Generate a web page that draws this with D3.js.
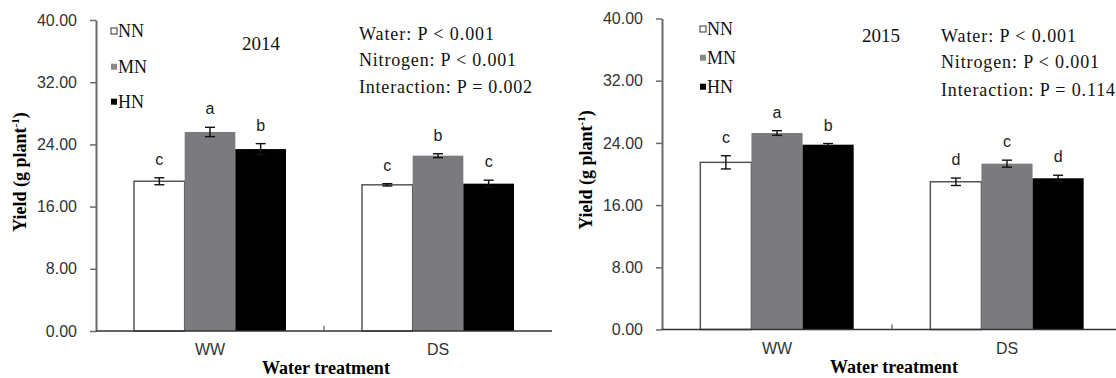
<!DOCTYPE html>
<html>
<head>
<meta charset="utf-8">
<script src="https://cdn.jsdelivr.net/npm/d3@7"></script>
<style>
  body { margin: 0; background: #fff; }
  svg { display: block; }
</style>
</head>
<body>
<div id="chart"></div>
<script>
// data
const categories = ["WW", "DS"];
const series = ["NN", "MN", "HN"];
const yTicks = [0, 8, 16, 24, 32, 40];

const yield2014 = [[19.26, 25.6, 23.4], [18.8, 22.55, 18.95]];
const se2014 = [[0.45, 0.6, 0.7], [0.15, 0.25, 0.45]];
const letters2014 = [["c", "a", "b"], ["c", "b", "c"]];
const stats2014 = ["Water: P < 0.001", "Nitrogen: P < 0.001", "Interaction: P = 0.002"];

const yield2015 = [[21.5, 25.27, 23.77], [19.0, 21.33, 19.45]];
const se2015 = [[0.85, 0.3, 0.15], [0.48, 0.45, 0.39]];
const letters2015 = [["c", "a", "b"], ["d", "c", "d"]];
const stats2015 = ["Water: P < 0.001", "Nitrogen: P < 0.001", "Interaction: P = 0.114"];

var W = 1116, H = 378;
var serif = "'Liberation Serif', 'Times New Roman', serif",
    sans = "'Liberation Sans', Arial, sans-serif";

var color = d3.scaleOrdinal().domain(series).range(["#ffffff", "#7b7b7f", "#000000"]);

var svg = d3.select("#chart").append("svg")
    .attr("width", W)
    .attr("height", H);

var panels = [
    { year: "2014", values: yield2014, se: se2014, letters: letters2014, stats: stats2014,
      x0: 96, x1: 552, yTop: 20, yBot: 331,
      legX: 111, legY: [31, 66.7, 101.7],
      yearX: 261, yearY: 50,
      statsX: 359, statsY: [40, 66, 92.5], statsW: [135, 157, 173],
      yTitleX: 20, yTitleY: 172, xTitleX: 326 },
    { year: "2015", values: yield2015, se: se2015, letters: letters2015, stats: stats2015,
      x0: 662, x1: 1122, yTop: 18.5, yBot: 329.5,
      legX: 700, legY: [29, 57.7, 86.7],
      yearX: 881, yearY: 42,
      statsX: 941, statsY: [42, 68, 96], statsW: [135, 158, 174],
      yTitleX: 586, yTitleY: 170, xTitleX: 894 }
];

panels.forEach(function (p) {
    var g = svg.append("g");

    var x = d3.scaleBand()
        .domain(categories)
        .range([p.x0, p.x1])
        .paddingInner(0)
        .paddingOuter(0);

    var xs = d3.scaleBand()
        .domain(series)
        .range([0, x.bandwidth()])
        .paddingInner(0)
        .paddingOuter(0.75);

    var y = d3.scaleLinear()
        .domain([0, 40])
        .range([p.yBot, p.yTop]);

    // y axis
    var yAxis = g.append("g")
        .attr("transform", "translate(" + p.x0 + ",0)")
        .call(d3.axisLeft(y).tickValues(yTicks).tickFormat(d3.format(".2f"))
            .tickSize(6).tickSizeOuter(0).tickPadding(13));
    yAxis.select(".domain").attr("stroke", "#6a6a6a").attr("stroke-width", 2);
    yAxis.selectAll(".tick line").attr("stroke", "#6a6a6a").attr("stroke-width", 1.5);
    yAxis.selectAll(".tick text")
        .style("font-family", sans)
        .style("font-size", "16px")
        .attr("fill", "#333");

    // bars
    var rows = [];
    categories.forEach(function (c, i) {
        series.forEach(function (s, j) {
            rows.push({ cat: c, ser: s, v: p.values[i][j], e: p.se[i][j], lab: p.letters[i][j] });
        });
    });

    g.append("g").selectAll("rect")
        .data(rows)
        .enter().append("rect")
        .attr("x", function (d) { return x(d.cat) + xs(d.ser); })
        .attr("y", function (d) { return y(d.v); })
        .attr("width", xs.bandwidth())
        .attr("height", function (d) { return y(0) - y(d.v); })
        .attr("fill", function (d) { return color(d.ser); })
        .attr("stroke", function (d) { return d.ser == "NN" ? "#555" : "none"; })
        .attr("stroke-width", 1.5);

    // error bars
    var eb = g.append("g").selectAll("g")
        .data(rows)
        .enter().append("g")
        .attr("stroke", "#111")
        .attr("stroke-width", 1.4);
    var cx = function (d) { return x(d.cat) + xs(d.ser) + xs.bandwidth() / 2; };
    eb.append("line")
        .attr("x1", cx).attr("x2", cx)
        .attr("y1", function (d) { return y(d.v + d.e); })
        .attr("y2", function (d) { return y(d.v - d.e); });
    eb.append("line")
        .attr("x1", function (d) { return cx(d) - 5; }).attr("x2", function (d) { return cx(d) + 5; })
        .attr("y1", function (d) { return y(d.v + d.e); })
        .attr("y2", function (d) { return y(d.v + d.e); });
    eb.append("line")
        .attr("x1", function (d) { return cx(d) - 5; }).attr("x2", function (d) { return cx(d) + 5; })
        .attr("y1", function (d) { return y(d.v - d.e); })
        .attr("y2", function (d) { return y(d.v - d.e); });

    // significance letters
    g.append("g").selectAll("text")
        .data(rows)
        .enter().append("text")
        .attr("x", cx)
        .attr("y", function (d) { return y(d.v + d.e) - 13; })
        .attr("text-anchor", "middle")
        .style("font-family", sans)
        .style("font-size", "16px")
        .attr("fill", "#222")
        .text(function (d) { return d.lab; });

    // x axis
    var xAxis = g.append("g")
        .attr("transform", "translate(0," + p.yBot + ")")
        .call(d3.axisBottom(x).tickSize(0).tickPadding(13));
    xAxis.select(".domain").remove();
    xAxis.selectAll(".tick text")
        .style("font-family", sans)
        .style("font-size", "16px")
        .attr("fill", "#333");
    g.append("line")
        .attr("x1", p.x0).attr("x2", p.x1)
        .attr("y1", y(0)).attr("y2", y(0))
        .attr("stroke", "#333").attr("stroke-width", 1.5);
    g.append("g").selectAll("line")
        .data(categories.slice(1))
        .enter().append("line")
        .attr("x1", function (d) { return x(d); })
        .attr("x2", function (d) { return x(d); })
        .attr("y1", y(0)).attr("y2", y(0) - 5)
        .attr("stroke", "#555").attr("stroke-width", 1.2);

    // axis titles
    g.append("text")
        .attr("x", p.xTitleX)
        .attr("y", p.yBot + 43)
        .attr("text-anchor", "middle")
        .style("font-family", serif)
        .style("font-weight", "bold")
        .style("font-size", "18px")
        .text("Water treatment");

    var yt = g.append("text")
        .attr("transform", "translate(" + (p.yTitleX + 6) + "," + p.yTitleY + ") rotate(-90)")
        .attr("text-anchor", "middle")
        .style("font-family", serif)
        .style("font-weight", "bold")
        .style("font-size", "18px");
    yt.append("tspan").text("Yield (g plant");
    yt.append("tspan").attr("dy", -7).style("font-size", "11px").text("-1");
    yt.append("tspan").attr("dy", 7).text(")");

    // legend
    var leg = g.append("g").selectAll("g")
        .data(series)
        .enter().append("g")
        .attr("transform", function (d, i) { return "translate(" + p.legX + "," + p.legY[i] + ")"; });
    leg.append("rect")
        .attr("x", 0).attr("y", -3)
        .attr("width", 6).attr("height", 6)
        .attr("fill", function (d) { return d == "MN" ? "#8a8a8a" : color(d); })
        .attr("stroke", function (d) { return d == "NN" ? "#333" : "none"; })
        .attr("stroke-width", 1);
    leg.append("text")
        .attr("x", 7)
        .attr("y", 6)
        .style("font-family", serif)
        .style("font-size", "18px")
        .attr("fill", "#111")
        .text(function (d) { return d; });

    // year
    g.append("text")
        .attr("x", p.yearX)
        .attr("y", p.yearY)
        .attr("text-anchor", "middle")
        .style("font-family", serif)
        .style("font-size", "19px")
        .attr("fill", "#111")
        .text(p.year);

    // ANOVA results
    g.append("g").selectAll("text")
        .data(p.stats)
        .enter().append("text")
        .attr("x", p.statsX)
        .attr("y", function (d, i) { return p.statsY[i]; })
        .attr("textLength", function (d, i) { return p.statsW[i]; })
        .attr("lengthAdjust", "spacing")
        .style("font-family", serif)
        .style("font-size", "18px")
        .attr("fill", "#111")
        .text(function (d) { return d; });
});
</script>
</body>
</html>
